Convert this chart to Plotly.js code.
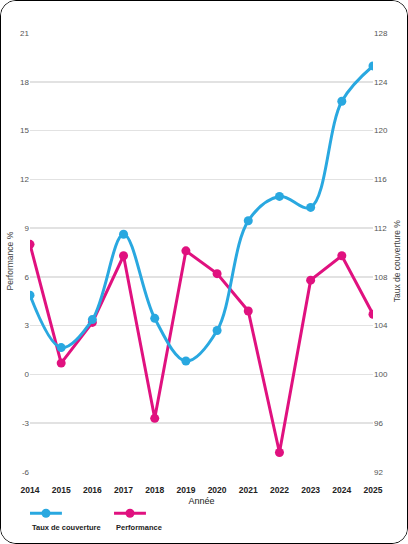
<!DOCTYPE html>
<html>
<head>
<meta charset="utf-8">
<script src="https://cdn.plot.ly/plotly-3.0.1.min.js"></script>
<style>
html,body{margin:0;padding:0;background:#fff;}
#wrap{width:408px;height:544px;box-sizing:border-box;border:1px solid #000;border-radius:16px;overflow:hidden;position:relative;}
#chart{position:absolute;left:-1px;top:-1px;width:408px;height:544px;}
</style>
</head>
<body>
<div id="wrap"><div id="chart"></div></div>
<script>
const years = [2014,2015,2016,2017,2018,2019,2020,2021,2022,2023,2024,2025];
const tauxCouverture = [106.5,102.2,104.5,111.5,104.6,101.1,103.6,112.6,114.6,113.7,122.4,125.3];
const performance = [8.0,0.7,3.2,7.3,-2.7,7.6,6.2,3.9,-4.8,5.8,7.3,3.7];
const leftTicks = [-6,-3,0,3,6,9,12,15,18,21];
const leftTickText = ['-6','-3','0','3','6','9','12','15','18','21'];
const rightTicks = [92,96,100,104,108,112,116,120,124,128];

const blue = '#29a8e0';
const pink = '#e0117f';
const fontFam = '"Liberation Sans", Arial, sans-serif';

const traces = [
  {x: years, y: tauxCouverture, name: 'Taux de couverture', yaxis: 'y2', type: 'scatter', mode: 'lines+markers',
   line: {color: blue, width: 3, shape: 'spline', smoothing: 1}, marker: {color: blue, size: 9}},
  {x: years, y: performance, name: 'Performance', type: 'scatter', mode: 'lines+markers',
   line: {color: pink, width: 3}, marker: {color: pink, size: 9}}
];

const layout = {
  width: 408, height: 544,
  margin: {l: 30, r: 35, t: 33, b: 72},
  paper_bgcolor: '#fff', plot_bgcolor: '#fff',
  showlegend: false,
  font: {family: fontFam, size: 8, color: '#555'},
  xaxis: {
    range: [2014, 2025], tickvals: years, ticktext: years.map(String),
    showgrid: false, zeroline: false, showline: false,
    ticks: 'outside', ticklen: 10, tickcolor: 'rgba(0,0,0,0)',
    tickfont: {size: 8.5, color: '#222', family: fontFam, weight: 'bold'},
    title: {text: 'Année', font: {size: 9, color: '#222'}, standoff: 3}
  },
  yaxis: {
    range: [-6, 21], tickvals: leftTicks, ticktext: leftTickText, showgrid: true, gridcolor: '#e2e2e2', gridwidth: 1.5,
    zeroline: false, showline: false, ticks: '',
    tickfont: {size: 8, color: '#555'}
  },
  yaxis2: {
    range: [92, 128], tickvals: rightTicks, overlaying: 'y', side: 'right', showgrid: false,
    zeroline: false, showline: false, ticks: '',
    tickfont: {size: 8, color: '#555'}
  },
  shapes: [
    {type: 'line', xref: 'paper', yref: 'paper', x0: -0.0, x1: 0.093, y0: -0.094, y1: -0.094, line: {color: blue, width: 3}},
    {type: 'circle', xref: 'paper', yref: 'paper', xsizemode: 'pixel', ysizemode: 'pixel', xanchor: 0.0466, yanchor: -0.094,
     x0: -4.5, x1: 4.5, y0: -4.5, y1: 4.5, fillcolor: blue, line: {width: 0}},
    {type: 'line', xref: 'paper', yref: 'paper', x0: 0.245, x1: 0.338, y0: -0.094, y1: -0.094, line: {color: pink, width: 3}},
    {type: 'circle', xref: 'paper', yref: 'paper', xsizemode: 'pixel', ysizemode: 'pixel', xanchor: 0.2915, yanchor: -0.094,
     x0: -4.5, x1: 4.5, y0: -4.5, y1: 4.5, fillcolor: pink, line: {width: 0}}
  ],
  annotations: [
    {text: 'Performance %', xref: 'paper', yref: 'paper', x: -0.058, y: 0.48, xanchor: 'center', yanchor: 'middle',
     textangle: -90, showarrow: false, font: {size: 8.5, color: '#444'}},
    {text: 'Taux de couverture %', xref: 'paper', yref: 'paper', x: 1.07, y: 0.48, xanchor: 'center', yanchor: 'middle',
     textangle: -90, showarrow: false, font: {size: 8.5, color: '#444'}},
    {text: 'Taux de couverture', xref: 'paper', yref: 'paper', x: 0, y: -0.126, xanchor: 'left', yanchor: 'middle',
     showarrow: false, font: {size: 7.5, color: '#222', weight: 'bold'}},
    {text: 'Performance', xref: 'paper', yref: 'paper', x: 0.245, y: -0.126, xanchor: 'left', yanchor: 'middle',
     showarrow: false, font: {size: 7.5, color: '#222', weight: 'bold'}}
  ]
};

Plotly.newPlot('chart', traces, layout, {displayModeBar: false, staticPlot: true});
</script>
</body>
</html>
